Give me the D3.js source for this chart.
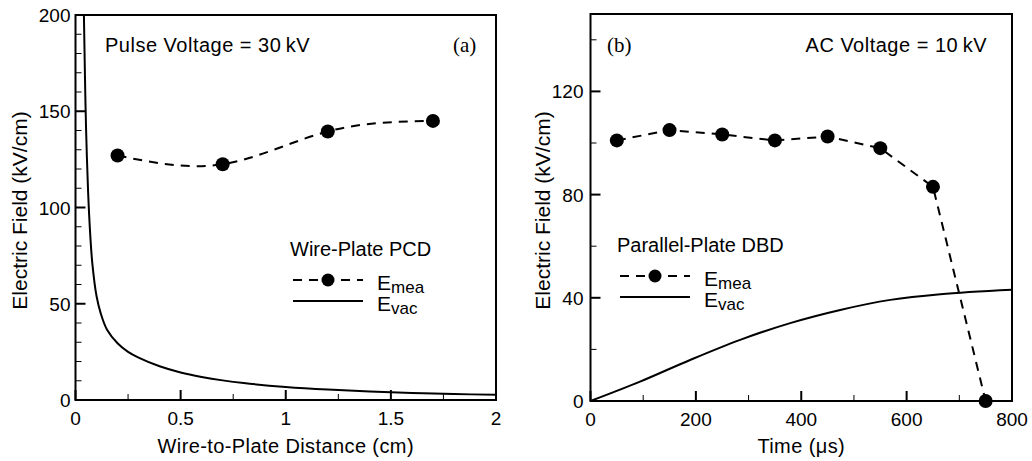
<!DOCTYPE html>
<html>
<head>
<meta charset="utf-8">
<script src="https://cdn.jsdelivr.net/npm/d3@7"></script>
<style>
  body { margin: 0; background: #fff; }
  svg { display: block; font-family: "Liberation Sans", Arial, sans-serif; }
  .frame { fill: none; stroke: #000; stroke-width: 2; }
  .tick { stroke: #000; }
  .ticklabel { font-size: 19px; }
  .title { font-size: 20px; }
</style>
</head>
<body>
<svg id="chart" width="1032" height="461"></svg>
<script>
// panel (a): wire-plate PCD
const aMeaX = [0.2, 0.7, 1.2, 1.7];
const aMeaY = [127, 122.5, 139.5, 145];
const aVacX = [0.035, 0.04, 0.045, 0.05, 0.06, 0.07, 0.08, 0.1, 0.12, 0.15, 0.2, 0.25, 0.3, 0.4, 0.5, 0.6, 0.7, 0.8, 1.0, 1.2, 1.4, 1.6, 1.8, 2.0];
const aVacY = [240, 200, 168, 142, 108, 86, 71, 54, 45, 36.5, 29.5, 25, 22, 17.5, 14.3, 12, 10.2, 8.8, 6.8, 5.4, 4.4, 3.7, 3.1, 2.7];
const aXTicks = [0, 0.5, 1, 1.5, 2];
const aYTicks = [0, 50, 100, 150, 200];

// panel (b): parallel-plate DBD
const bMeaX = [50, 150, 250, 350, 450, 550, 650, 750];
const bMeaY = [101, 105, 103.3, 101, 102.5, 98, 83, 0];
const bVacX = [0, 94, 189, 284, 379, 474, 569, 664, 800];
const bVacY = [0, 7.5, 15.9, 23.7, 30.2, 35.3, 39.2, 41.4, 43.1];
const bXTicks = [0, 200, 400, 600, 800];
const bYTicks = [0, 40, 80, 120];

const svg = d3.select("#chart");

const drawPanel = (p) => {
    const x = d3.scaleLinear().domain(p.xDomain).range([p.left, p.right]);
    const y = d3.scaleLinear().domain(p.yDomain).range([p.bottom, p.top]);
    const g = svg.append("g");

    g.append("clipPath").attr("id", p.id + "-clip")
        .append("rect")
        .attr("x", p.left).attr("y", p.top)
        .attr("width", p.right - p.left).attr("height", p.bottom - p.top);

    // ticks, pointing inward
    p.xMinor.forEach(v => g.append("line").attr("class", "tick").attr("stroke-width", 1)
        .attr("x1", x(v)).attr("x2", x(v)).attr("y1", p.bottom).attr("y2", p.bottom - 6));
    p.xTicks.forEach(v => g.append("line").attr("class", "tick").attr("stroke-width", 2)
        .attr("x1", x(v)).attr("x2", x(v)).attr("y1", p.bottom).attr("y2", p.bottom - 10));
    p.yMinor.forEach(v => g.append("line").attr("class", "tick").attr("stroke-width", 1)
        .attr("x1", p.left).attr("x2", p.left + 6).attr("y1", y(v)).attr("y2", y(v)));
    p.yTicks.forEach(v => g.append("line").attr("class", "tick").attr("stroke-width", 2)
        .attr("x1", p.left).attr("x2", p.left + 10).attr("y1", y(v)).attr("y2", y(v)));

    g.selectAll(".xl").data(p.xTicks).enter().append("text")
        .attr("class", "ticklabel")
        .attr("x", d => x(d)).attr("y", p.bottom + 25)
        .attr("text-anchor", "middle")
        .text(d => d);
    g.selectAll(".yl").data(p.yTicks).enter().append("text")
        .attr("class", "ticklabel")
        .attr("x", p.left - p.yLabelGap).attr("y", d => y(d) + 7)
        .attr("text-anchor", "end")
        .text(d => d);

    // curves
    const plot = g.append("g").attr("clip-path", `url(#${p.id}-clip)`);
    const vac = p.vacX.map((v, i) => [v, p.vacY[i]]);
    plot.append("path")
        .attr("d", d3.line().x(d => x(d[0])).y(d => y(d[1])).curve(d3.curveCatmullRom)(vac))
        .attr("fill", "none").attr("stroke", "#000").attr("stroke-width", 2);

    const mea = p.meaX.map((v, i) => [v, p.meaY[i]]);
    g.append("path")
        .attr("d", d3.line().x(d => x(d[0])).y(d => y(d[1])).curve(p.meaCurve)(mea))
        .attr("fill", "none").attr("stroke", "#000").attr("stroke-width", 2)
        .attr("stroke-dasharray", "9,7");
    g.selectAll(".dot").data(mea).enter().append("circle")
        .attr("cx", d => x(d[0])).attr("cy", d => y(d[1])).attr("r", 7)
        .attr("fill", "#000");

    g.append("rect").attr("class", "frame")
        .attr("x", p.left).attr("y", p.top)
        .attr("width", p.right - p.left).attr("height", p.bottom - p.top);

    // axis titles
    g.append("text").attr("class", "title")
        .attr("x", (p.left + p.right) / 2).attr("y", 453)
        .attr("text-anchor", "middle")
        .attr("letter-spacing", 0.4)
        .text(p.xTitle);
    g.append("text").attr("font-size", 21)
        .attr("transform", `translate(${p.yTitleX},${(p.top + p.bottom) / 2 + 3}) rotate(-90)`)
        .attr("text-anchor", "middle")
        .text("Electric Field (kV/cm)");

    // annotations
    g.append("text").attr("class", "title")
        .attr("x", p.voltX).attr("y", 52)
        .attr("text-anchor", p.voltAnchor)
        .attr("letter-spacing", 0.5)
        .text(p.voltText);
    g.append("text")
        .attr("x", p.tagX).attr("y", 52)
        .attr("font-family", "Liberation Serif, Times New Roman, serif")
        .attr("font-size", 21)
        .text(p.tag);

    // legend
    const lg = g.append("g").attr("transform", `translate(${p.legX},${p.legY})`);
    lg.append("text").attr("class", "title").attr("x", -3).attr("y", -24).text(p.legTitle);
    lg.append("line").attr("x1", 0).attr("x2", 70).attr("y1", 0).attr("y2", 0)
        .attr("stroke", "#000").attr("stroke-width", 2).attr("stroke-dasharray", "9,7");
    lg.append("circle").attr("cx", 35).attr("cy", 0).attr("r", 6.5).attr("fill", "#000");
    lg.append("line").attr("x1", 0).attr("x2", 70).attr("y1", 21).attr("y2", 21)
        .attr("stroke", "#000").attr("stroke-width", 2);
    [["mea", 0], ["vac", 21]].forEach(([sub, dy]) => {
        const t = lg.append("text").attr("x", 84).attr("y", dy + 10).attr("font-size", 21);
        t.append("tspan").text("E");
        t.append("tspan").attr("dy", 3).attr("font-size", 17).text(sub);
    });
};

drawPanel({
    id: "a",
    left: 75.5, right: 496, top: 15, bottom: 400,
    xDomain: [0, 2], yDomain: [0, 200],
    xTicks: aXTicks, yTicks: aYTicks,
    xMinor: [0.25, 0.75, 1.25, 1.75],
    yMinor: d3.range(10, 200, 10).filter(v => v % 50 !== 0),
    meaX: aMeaX, meaY: aMeaY, meaCurve: d3.curveNatural,
    vacX: aVacX, vacY: aVacY,
    xTitle: "Wire-to-Plate Distance (cm)",
    yTitleX: 27, yLabelGap: 5,
    voltText: "Pulse Voltage = 30\u2009kV", voltX: 105, voltAnchor: "start",
    tag: "(a)", tagX: 453,
    legTitle: "Wire-Plate PCD", legX: 293, legY: 280
});

drawPanel({
    id: "b",
    left: 590.5, right: 1012, top: 14, bottom: 401,
    xDomain: [0, 800], yDomain: [0, 150],
    xTicks: bXTicks, yTicks: bYTicks,
    xMinor: [100, 300, 500, 700],
    yMinor: [20, 60, 100, 140],
    meaX: bMeaX, meaY: bMeaY, meaCurve: d3.curveLinear,
    vacX: bVacX, vacY: bVacY,
    xTitle: "Time (\u03bcs)",
    yTitleX: 550, yLabelGap: 7,
    voltText: "AC Voltage = 10\u2009kV", voltX: 987, voltAnchor: "end",
    tag: "(b)", tagX: 607,
    legTitle: "Parallel-Plate DBD", legX: 620, legY: 276
});
</script>
</body>
</html>
